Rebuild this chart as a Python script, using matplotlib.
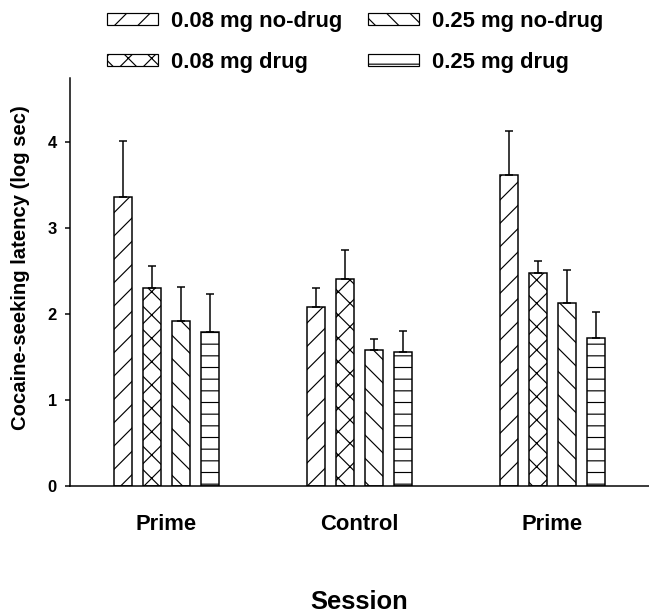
import matplotlib
matplotlib.use("Agg")
import matplotlib.pyplot as plt
import numpy as np
from matplotlib.patches import Patch

plt.rcParams['font.family'] = ['Liberation Sans', 'DejaVu Sans']
plt.rcParams['font.weight'] = 'bold'
plt.rcParams['hatch.linewidth'] = 1.2
plt.rcParams['hatch.color'] = 'black'

sessions = ["Prime", "Control", "Prime"]
series = ["0.08 mg no-drug", "0.08 mg drug", "0.25 mg no-drug", "0.25 mg drug"]
means_008_nodrug = [3.37, 2.08, 3.62]
means_008_drug = [2.30, 2.41, 2.48]
means_025_nodrug = [1.92, 1.58, 2.13]
means_025_drug = [1.79, 1.56, 1.72]
sem_008_nodrug = [0.65, 0.22, 0.51]
sem_008_drug = [0.26, 0.34, 0.14]
sem_025_nodrug = [0.40, 0.13, 0.38]
sem_025_drug = [0.44, 0.24, 0.30]
yticks = [0, 1, 2, 3, 4]

means = [means_008_nodrug, means_008_drug, means_025_nodrug, means_025_drug]
sems = [sem_008_nodrug, sem_008_drug, sem_025_nodrug, sem_025_drug]
hatches = ['/', 'x', '\\', '-']

DPI = 70
def pt(px):
    return px * 72.0 / DPI

fig = plt.figure(figsize=(649 / DPI, 615 / DPI), dpi=DPI)
ax = fig.add_axes([70 / 649, 1 - 486 / 615, 1 - 70 / 649, (486 - 78) / 615])

x = np.arange(len(sessions))
width = 0.093
step = 0.150
offsets = [-1.5 * step, -0.5 * step, 0.5 * step, 1.5 * step]
lw = pt(1.5)

for i in range(4):
    ax.bar(x + offsets[i], means[i], width, color='white', edgecolor='black',
           linewidth=lw, hatch=hatches[i], zorder=2)
    ax.errorbar(x + offsets[i], means[i], yerr=[np.zeros(3), sems[i]], fmt='none',
                ecolor='black', elinewidth=lw, capsize=pt(3.8), capthick=lw, zorder=3)

ax.set_xlim(-0.5, 2.5)
ax.set_ylim(0, 4.75)
ax.set_yticks(yticks)
ax.set_yticklabels([str(v) for v in yticks], fontsize=pt(16.5), fontweight='bold')
ax.set_xticks(x)
ax.set_xticklabels(sessions, fontsize=pt(22), fontweight='bold')
ax.tick_params(axis='x', length=0, pad=pt(28))
ax.tick_params(axis='y', direction='out', length=pt(5), width=lw, pad=pt(8))
for s in ['top', 'right']:
    ax.spines[s].set_visible(False)
for s in ['left', 'bottom']:
    ax.spines[s].set_linewidth(lw)

ax.set_ylabel("Cocaine-seeking latency (log sec)", fontsize=pt(20.2), fontweight='bold')
ax.yaxis.set_label_coords((30 - 70) / 579, (486 - 267.5) / 408)
ax.set_xlabel("Session", fontsize=pt(25.5), fontweight='bold', labelpad=pt(55))

handles = [Patch(facecolor='white', edgecolor='black', hatch=h, linewidth=pt(1.2)) for h in hatches]
fig.legend(handles, series,
           ncol=2, loc='upper left', bbox_to_anchor=(107 / 649, 1 - 11 / 615),
           frameon=False, handlelength=2.32, handleheight=0.45,
           handletextpad=0.6, columnspacing=1.14, labelspacing=0.9,
           borderpad=0, borderaxespad=0, prop={'weight': 'bold', 'size': pt(22)})

fig.savefig("out.png", dpi=DPI)
